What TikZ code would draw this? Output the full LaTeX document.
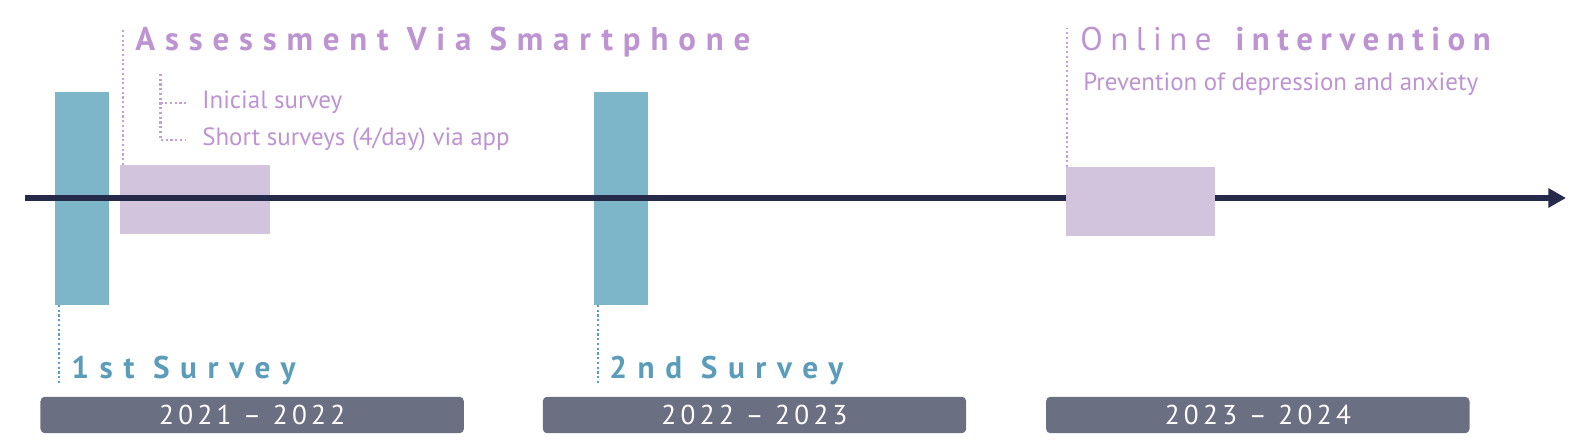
\documentclass[tikz,border=0pt]{standalone}
\usepackage{fontspec}
\setmainfont{PT Sans}
\usetikzlibrary{arrows.meta, positioning}

\definecolor{barteal}{HTML}{7DB5C9}
\definecolor{tealtext}{HTML}{5A9CB9}
\definecolor{lilac}{HTML}{D2C4DD}
\definecolor{purpletext}{HTML}{BD93D1}
\definecolor{slate}{HTML}{6B6F82}
\definecolor{axisnavy}{HTML}{252A4A}

\begin{document}
\begin{tikzpicture}[x=0.02cm, y=-0.02cm,
            surveybar/.style={fill=barteal, minimum width=1.08cm, minimum height=4.26cm, inner sep=0pt, outer sep=0pt},
            phasebox/.style={fill=lilac, minimum width=2.99cm, minimum height=1.38cm, inner sep=0pt, outer sep=0pt},
            yearbox/.style={fill=slate, rounded corners=2.5pt, minimum width=8.47cm, minimum height=0.73cm, inner sep=0pt, outer sep=0pt, text=white, font=\fontsize{15.5}{16}\selectfont\addfontfeatures{LetterSpace=16}},
            headline/.style={anchor=base west, inner sep=0pt, text=purpletext, font=\fontsize{18.7}{20}\selectfont\bfseries\addfontfeatures{LetterSpace=30}},
            surveylabel/.style={anchor=base west, inner sep=0pt, text=tealtext, font=\fontsize{17.8}{19}\selectfont\bfseries\addfontfeatures{LetterSpace=34}},
            note/.style={anchor=base west, inner sep=0pt, text=purpletext, font=\fontsize{14.2}{15}\selectfont},
            purpledots/.style={draw=purpletext!90, line width=1.3pt, dash pattern=on 1.2pt off 1.5pt},
            tealdots/.style={draw=tealtext, line width=1.2pt, dash pattern=on 1.2pt off 1.5pt}
        ]
            \useasboundingbox (0,0) rectangle (1586,446);

            % survey bars and first phase
            \node[surveybar] (bar1) at (82.4,198.5) {};
            \node[surveybar] (bar2) at (620.8,198.5) {};
            \node[phasebox] (phase1) at (195,199.5) {};

            % timeline
            \coordinate (tstart) at (25,198);
            \coordinate (tend) at (1566,198);
            \draw[axisnavy, line width=2.85pt, -{Triangle[length=10pt, width=10.5pt]}] (tstart) -- (tend);

            \node[phasebox] (phase2) at (1140.5,201.5) {};

            % years
            \node[yearbox] (yr1) at (252.2,415) {2021 -- 2022};
            \node[yearbox] (yr2) at (754.5,415) {2022 -- 2023};
            \node[yearbox] (yr3) at (1257.8,415) {2023 -- 2024};

            % survey labels
            \node[surveylabel] (s1) at (71,378) {1st Survey};
            \node[surveylabel] (s2) at (609,378) {2nd Survey};
            \coordinate (s1end) at (59.3,385);
            \coordinate (s2end) at (597.6,385);
            \draw[tealdots] (bar1.south west -| s1end) -- (s1end);
            \draw[tealdots] (bar2.south west -| s2end) -- (s2end);

            % assessment
            \node[headline] (assess) at (135,51) {Assessment Via Smartphone};
            \coordinate (assesstop) at (123,28);
            \draw[purpledots] (phase1.north west -| assesstop) -- (assesstop);
            \node[note] (initial) at (202,109) {Inicial survey};
            \node[note] (short) at (202,146) {Short surveys (4/day) via app};
            \coordinate (brtop) at (160.5,74);
            \coordinate (br1) at (186,103);
            \coordinate (br2) at (186,140);
            \draw[purpledots] (brtop) |- (br2);
            \draw[purpledots] (brtop |- br1) -- (br1);

            % intervention
            \node[headline, font=\fontsize{18.7}{20}\selectfont\addfontfeatures{LetterSpace=23}] (online) at (1080,51) {Online \textbf{intervention}};
            \node[note] (prevent) at (1083,91) {Prevention of depression and anxiety};
            \coordinate (onlinetop) at (1067,28);
            \draw[purpledots] (phase2.north west -| onlinetop) -- (onlinetop);
        \end{tikzpicture}
\end{document}
